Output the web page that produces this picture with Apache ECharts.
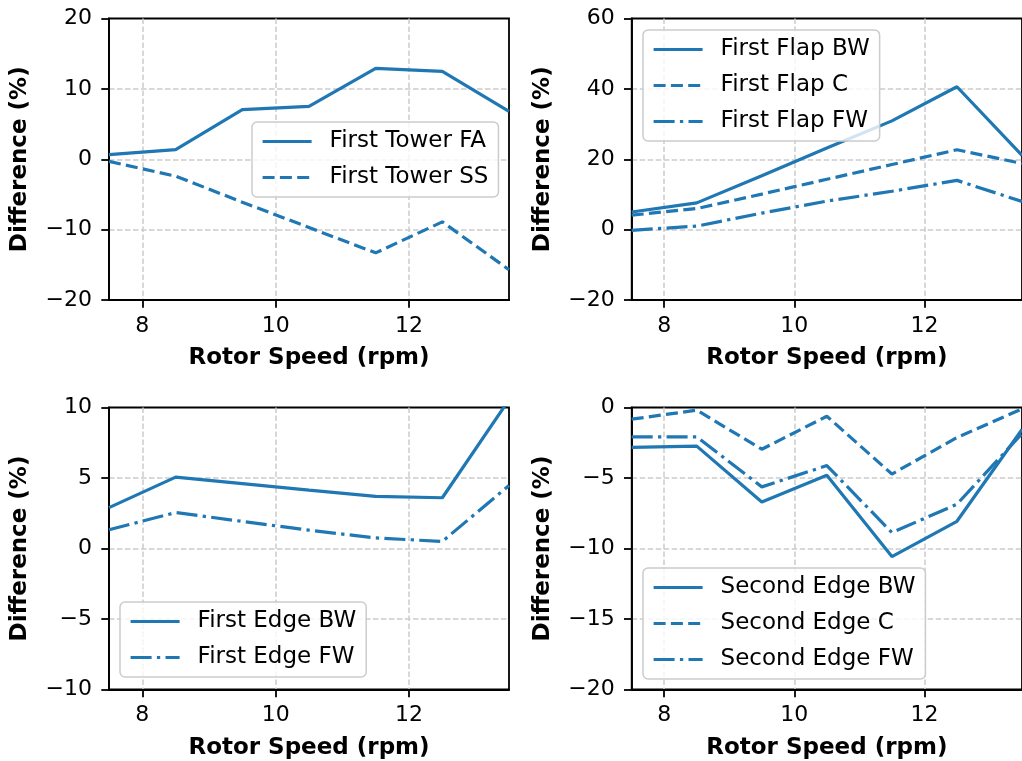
<!DOCTYPE html>
<html>
<head>
<meta charset="utf-8">
<script src="https://cdn.jsdelivr.net/npm/echarts@6/dist/echarts.min.js"></script>
<style>
html,body{margin:0;padding:0;background:#fff;}
#chart{width:1022px;height:761px;}
</style>
</head>
<body>
<div id="chart"></div>
<script>
// ---- data ----
const rpm = [7.5, 8.5, 9.5, 10.5, 11.5, 12.5, 13.5];
const xTicks = [8, 10, 12];

const towerFA = [0.67, 1.37, 7.05, 7.5, 12.9, 12.5, 6.8];
const towerSS = [-0.3, -2.4, -6.1, -9.7, -13.3, -8.9, -15.7];

const flapBW = [5.0, 7.6, 15.3, 23.2, 30.9, 40.6, 21.1];
const flapC  = [4.1, 6.0, 10.1, 14.3, 18.5, 22.7, 18.8];
const flapFW = [-0.2, 1.0, 4.7, 8.1, 10.9, 14.0, 8.0];

const edgeBW = [2.9, 5.06, 4.6, 4.14, 3.7, 3.6, 10.55];
const edgeFW = [1.33, 2.55, 1.92, 1.3, 0.75, 0.5, 4.47];

const sEdgeBW = [-2.83, -2.74, -6.7, -4.8, -10.57, -8.07, -1.55];
const sEdgeC  = [-0.83, -0.19, -2.96, -0.62, -4.72, -2.13, -0.1];
const sEdgeFW = [-2.08, -2.08, -5.63, -4.12, -8.87, -6.86, -1.85];

const yRanges = [
  {min: -20, max: 20, interval: 10},
  {min: -20, max: 60, interval: 20},
  {min: -10, max: 10, interval: 5},
  {min: -20, max: 0, interval: 5}
];

// ---- styling ----
const BLUE = '#1f77b4';
const FONT = 'DejaVu Sans';
const LW = 3.2;
const DASH = [12, 5.3];
const DASHDOT = [21, 5.3, 3.3, 5.3];

const grids = [
  {left: 109, top: 18.5, width: 400, height: 281.5},
  {left: 631.7, top: 18.5, width: 400, height: 281.5},
  {left: 109, top: 407.5, width: 400, height: 282},
  {left: 631.7, top: 407.5, width: 400, height: 282}
].map(g => Object.assign({show: true, borderColor: '#000', borderWidth: 1.8, backgroundColor: 'transparent', containLabel: false}, g));

const gridLineStyle = {color: '#cccccc', width: 1.5, type: [5.5, 2.5]};
const fmt = v => String(v).replace('-', '\u2212');

const xAxes = grids.map((g, i) => ({
  type: 'value', gridIndex: i, min: 7.5, max: 13.5,
  name: 'Rotor Speed (rpm)', nameLocation: 'middle', nameGap: 47,
  nameTextStyle: {fontFamily: FONT, fontSize: 23, fontWeight: 'bold', color: '#000'},
  axisLine: {show: true, onZero: false, lineStyle: {color: '#000', width: 1.8}},
  axisTick: {show: true, inside: false, length: 7.7, lineStyle: {color: '#000', width: 1.8}, customValues: xTicks},
  axisLabel: {show: true, margin: 15, fontFamily: FONT, fontSize: 22, color: '#000', customValues: xTicks, formatter: fmt},
  splitLine: {show: true, showMinLine: true, showMaxLine: true, customValues: xTicks, lineStyle: gridLineStyle}
}));

const yAxes = yRanges.map((r, i) => ({
  type: 'value', gridIndex: i, min: r.min, max: r.max, interval: r.interval,
  name: 'Difference (%)', nameLocation: 'middle', nameGap: 77,
  nameTextStyle: {fontFamily: FONT, fontSize: 23, fontWeight: 'bold', color: '#000'},
  axisLine: {show: true, onZero: false, lineStyle: {color: '#000', width: 1.8}},
  axisTick: {show: true, inside: false, length: 7.7, lineStyle: {color: '#000', width: 1.8}},
  axisLabel: {show: true, margin: 17, fontFamily: FONT, fontSize: 22, color: '#000', formatter: fmt},
  splitLine: {show: true, showMinLine: false, showMaxLine: false, lineStyle: gridLineStyle}
}));

function line(name, data, idx, type) {
  return {
    name: name, type: 'line', xAxisIndex: idx, yAxisIndex: idx,
    data: rpm.map((x, k) => [x, data[k]]),
    symbol: 'none', showSymbol: false, clip: true, animation: false,
    lineStyle: {color: BLUE, width: LW, type: type, cap: 'butt'},
    itemStyle: {color: BLUE}
  };
}

const series = [
  line('First Tower FA', towerFA, 0, 'solid'),
  line('First Tower SS', towerSS, 0, DASH),
  line('First Flap BW', flapBW, 1, 'solid'),
  line('First Flap C', flapC, 1, DASH),
  line('First Flap FW', flapFW, 1, DASHDOT),
  line('First Edge BW', edgeBW, 2, 'solid'),
  line('First Edge FW', edgeFW, 2, DASHDOT),
  line('Second Edge BW', sEdgeBW, 3, 'solid'),
  line('Second Edge C', sEdgeC, 3, DASH),
  line('Second Edge FW', sEdgeFW, 3, DASHDOT)
];

function legend(names, left, top) {
  return {
    data: names, left: left, top: top, orient: 'vertical',
    selectedMode: false,
    itemWidth: 49, itemHeight: 26, itemGap: 10,
    padding: [6.5, 10, 6.5, 9],
    backgroundColor: 'rgba(255,255,255,0.8)',
    borderColor: '#cccccc', borderWidth: 1.5, borderRadius: 5,
    itemStyle: {opacity: 0},
    lineStyle: {width: LW},
    textStyle: {fontFamily: FONT, fontSize: 23, color: '#000', lineHeight: 26, padding: [0, 0, 0, 13]}
  };
}

const option = {
  backgroundColor: '#fff',
  animation: false,
  grid: grids,
  xAxis: xAxes,
  yAxis: yAxes,
  legend: [
    legend(['First Tower FA', 'First Tower SS'], 252, 122),
    legend(['First Flap BW', 'First Flap C', 'First Flap FW'], 643, 30),
    legend(['First Edge BW', 'First Edge FW'], 120, 602),
    legend(['Second Edge BW', 'Second Edge C', 'Second Edge FW'], 643, 568)
  ],
  series: series
};

const chart = echarts.init(document.getElementById('chart'), null, {renderer: 'canvas'});
chart.setOption(option);
</script>
</body>
</html>
